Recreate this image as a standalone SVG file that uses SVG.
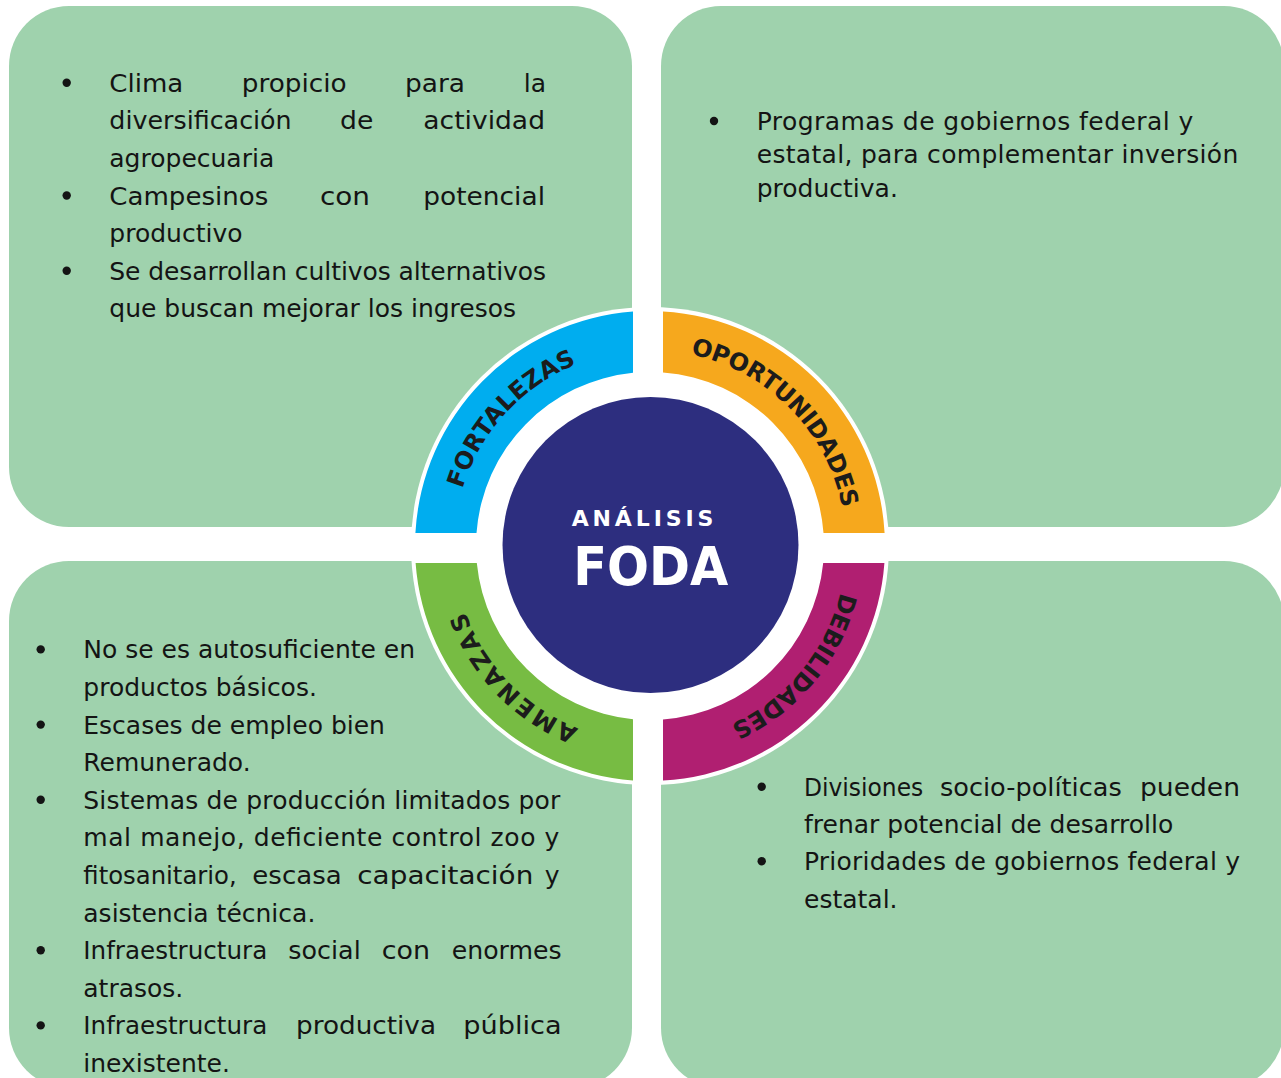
<svg xmlns="http://www.w3.org/2000/svg" width="1281" height="1078" viewBox="0 0 1281 1078">
<defs>
<style>
.box{fill:#9FD2AD}
.t{font-family:"DejaVu Sans","Liberation Sans",sans-serif;font-size:25px;fill:#141414}
.e{text-anchor:end}
.b{fill:#141414}
.lbl{font-family:"DejaVu Sans","Liberation Sans",sans-serif;font-size:24px;font-weight:bold;fill:#1c1c1c}
.ctr{font-family:"DejaVu Sans","Liberation Sans",sans-serif;fill:#ffffff;font-weight:bold}
</style>
<path id="ringPath" d="M846,546 A196,196 0 1 1 454,546 A196,196 0 1 1 846,546"/>
</defs>
<rect width="1281" height="1078" fill="#ffffff"/>

<g id="fortalezas-box">
<rect class="box" x="9" y="6" width="623" height="521" rx="60"/>
<circle class="b" cx="66.7" cy="82.7" r="4.2"/>
<circle class="b" cx="66.7" cy="195.5" r="4.2"/>
<circle class="b" cx="66.7" cy="270.7" r="4.2"/>
<text class="t" x="109.3" y="91.7" textLength="74" lengthAdjust="spacingAndGlyphs">Clima</text>
<text class="t" x="241.7" y="91.7" textLength="105" lengthAdjust="spacingAndGlyphs">propicio</text>
<text class="t" x="405" y="91.7" textLength="60" lengthAdjust="spacingAndGlyphs">para</text>
<text class="t e" x="546" y="91.7">la</text>
<text class="t" x="109.3" y="129.3" textLength="182.4" lengthAdjust="spacingAndGlyphs">diversificación</text>
<text class="t" x="340" y="129.3" textLength="33.3" lengthAdjust="spacingAndGlyphs">de</text>
<text class="t" x="423.3" y="129.3" textLength="121.7" lengthAdjust="spacingAndGlyphs">actividad</text>
<text class="t" x="109.3" y="166.9">agropecuaria</text>
<text class="t" x="109.3" y="204.5" textLength="159" lengthAdjust="spacingAndGlyphs">Campesinos</text>
<text class="t" x="320" y="204.5" textLength="50" lengthAdjust="spacingAndGlyphs">con</text>
<text class="t" x="423.3" y="204.5" textLength="121.7" lengthAdjust="spacingAndGlyphs">potencial</text>
<text class="t" x="109.3" y="242.1">productivo</text>
<text class="t" x="109.3" y="279.7" textLength="436.7" lengthAdjust="spacing">Se desarrollan cultivos alternativos</text>
<text class="t" x="109.3" y="317.3">que buscan mejorar los ingresos</text>
</g>

<g id="oportunidades-box">
<rect class="box" x="661" y="6" width="623" height="521" rx="60"/>
<circle class="b" cx="714" cy="121" r="4.2"/>
<text class="t" x="756.7" y="130" textLength="436.6" lengthAdjust="spacing">Programas de gobiernos federal y</text>
<text class="t" x="756.7" y="163.3" textLength="481.6" lengthAdjust="spacing">estatal, para complementar inversión</text>
<text class="t" x="756.7" y="196.7">productiva.</text>
</g>

<g id="amenazas-box">
<rect class="box" x="9" y="561" width="623" height="527" rx="60"/>
<circle class="b" cx="40.7" cy="649.4" r="4.2"/>
<circle class="b" cx="40.7" cy="724.6" r="4.2"/>
<circle class="b" cx="40.7" cy="799.8" r="4.2"/>
<circle class="b" cx="40.7" cy="950.2" r="4.2"/>
<circle class="b" cx="40.7" cy="1025.4" r="4.2"/>
<text class="t" x="83.3" y="658.4">No se es autosuficiente en</text>
<text class="t" x="83.3" y="696">productos básicos.</text>
<text class="t" x="83.3" y="733.6">Escases de empleo bien</text>
<text class="t" x="83.3" y="771.2">Remunerado.</text>
<text class="t" x="83.3" y="808.8" textLength="477" lengthAdjust="spacing">Sistemas de producción limitados por</text>
<text class="t" x="83.3" y="846.4" textLength="476" lengthAdjust="spacing">mal manejo, deficiente control zoo y</text>
<text class="t" x="83.3" y="884" textLength="153.4" lengthAdjust="spacingAndGlyphs">fitosanitario,</text>
<text class="t" x="252.3" y="884" textLength="89.4" lengthAdjust="spacingAndGlyphs">escasa</text>
<text class="t" x="357.3" y="884" textLength="176" lengthAdjust="spacingAndGlyphs">capacitación</text>
<text class="t e" x="559.5" y="884">y</text>
<text class="t" x="83.3" y="921.6">asistencia técnica.</text>
<text class="t" x="83.3" y="959.2" textLength="184" lengthAdjust="spacingAndGlyphs">Infraestructura</text>
<text class="t" x="288.3" y="959.2" textLength="72.4" lengthAdjust="spacingAndGlyphs">social</text>
<text class="t" x="381.7" y="959.2" textLength="48.3" lengthAdjust="spacingAndGlyphs">con</text>
<text class="t" x="451.7" y="959.2" textLength="110" lengthAdjust="spacingAndGlyphs">enormes</text>
<text class="t" x="83.3" y="996.8">atrasos.</text>
<text class="t" x="83.3" y="1034.4" textLength="184" lengthAdjust="spacingAndGlyphs">Infraestructura</text>
<text class="t" x="296" y="1034.4" textLength="140" lengthAdjust="spacingAndGlyphs">productiva</text>
<text class="t" x="463.3" y="1034.4" textLength="98.4" lengthAdjust="spacingAndGlyphs">pública</text>
<text class="t" x="83.3" y="1072">inexistente.</text>
</g>

<g id="debilidades-box">
<rect class="box" x="661" y="561" width="623" height="527" rx="60"/>
<circle class="b" cx="761.7" cy="786.7" r="4.2"/>
<circle class="b" cx="761.7" cy="861.3" r="4.2"/>
<text class="t" x="804" y="795.7" textLength="119.3" lengthAdjust="spacingAndGlyphs">Divisiones</text>
<text class="t" x="940" y="795.7" textLength="181.7" lengthAdjust="spacingAndGlyphs">socio-políticas</text>
<text class="t" x="1140" y="795.7" textLength="100" lengthAdjust="spacingAndGlyphs">pueden</text>
<text class="t" x="804" y="833">frenar potencial de desarrollo</text>
<text class="t" x="804" y="870.3" textLength="436" lengthAdjust="spacing">Prioridades de gobiernos federal y</text>
<text class="t" x="804" y="907.6">estatal.</text>
</g>

<g id="ring">
<circle cx="650" cy="546" r="239" fill="#ffffff"/>
<rect x="633" y="308" width="30" height="476" fill="#ffffff"/>
<rect x="412" y="533" width="476" height="30" fill="#ffffff"/>
<g id="seg-fortalezas">
<path d="M633,311.6 A235,235 0 0 0 415.4,533 L476.5,533 A174,174 0 0 1 633,372.8 Z" fill="#00ADEF"/>
<text class="lbl"><textPath href="#ringPath" startOffset="673.5" textLength="174.5" lengthAdjust="spacing">FORTALEZAS</textPath></text>
</g>
<g id="seg-oportunidades">
<path d="M663,311.4 A235,235 0 0 1 884.6,533 L823.5,533 A174,174 0 0 0 663,372.5 Z" fill="#F6A81D"/>
<text class="lbl"><textPath href="#ringPath" startOffset="963.9" textLength="229" lengthAdjust="spacing">OPORTUNIDADES</textPath></text>
</g>
<g id="seg-debilidades">
<path d="M884.4,563 A235,235 0 0 1 663,780.6 L663,719.5 A174,174 0 0 0 823.2,563 Z" fill="#B01F71"/>
<text class="lbl"><textPath href="#ringPath" startOffset="46.8" textLength="178" lengthAdjust="spacing">DEBILIDADES</textPath></text>
</g>
<g id="seg-amenazas">
<path d="M633,780.4 A235,235 0 0 1 415.6,563 L476.8,563 A174,174 0 0 0 633,719.2 Z" fill="#77BC43"/>
<text class="lbl"><textPath href="#ringPath" startOffset="380.9" textLength="168" lengthAdjust="spacing">AMENAZAS</textPath></text>
</g>
</g>

<g id="center">
<circle cx="650.5" cy="545" r="148" fill="#2D2E7F"/>
<text class="ctr" x="571.7" y="526" font-size="22" font-weight="600" textLength="141.6" lengthAdjust="spacing">ANÁLISIS</text>
<text class="ctr" x="573.3" y="585" font-size="53" textLength="155" lengthAdjust="spacingAndGlyphs">FODA</text>
</g>
</svg>
